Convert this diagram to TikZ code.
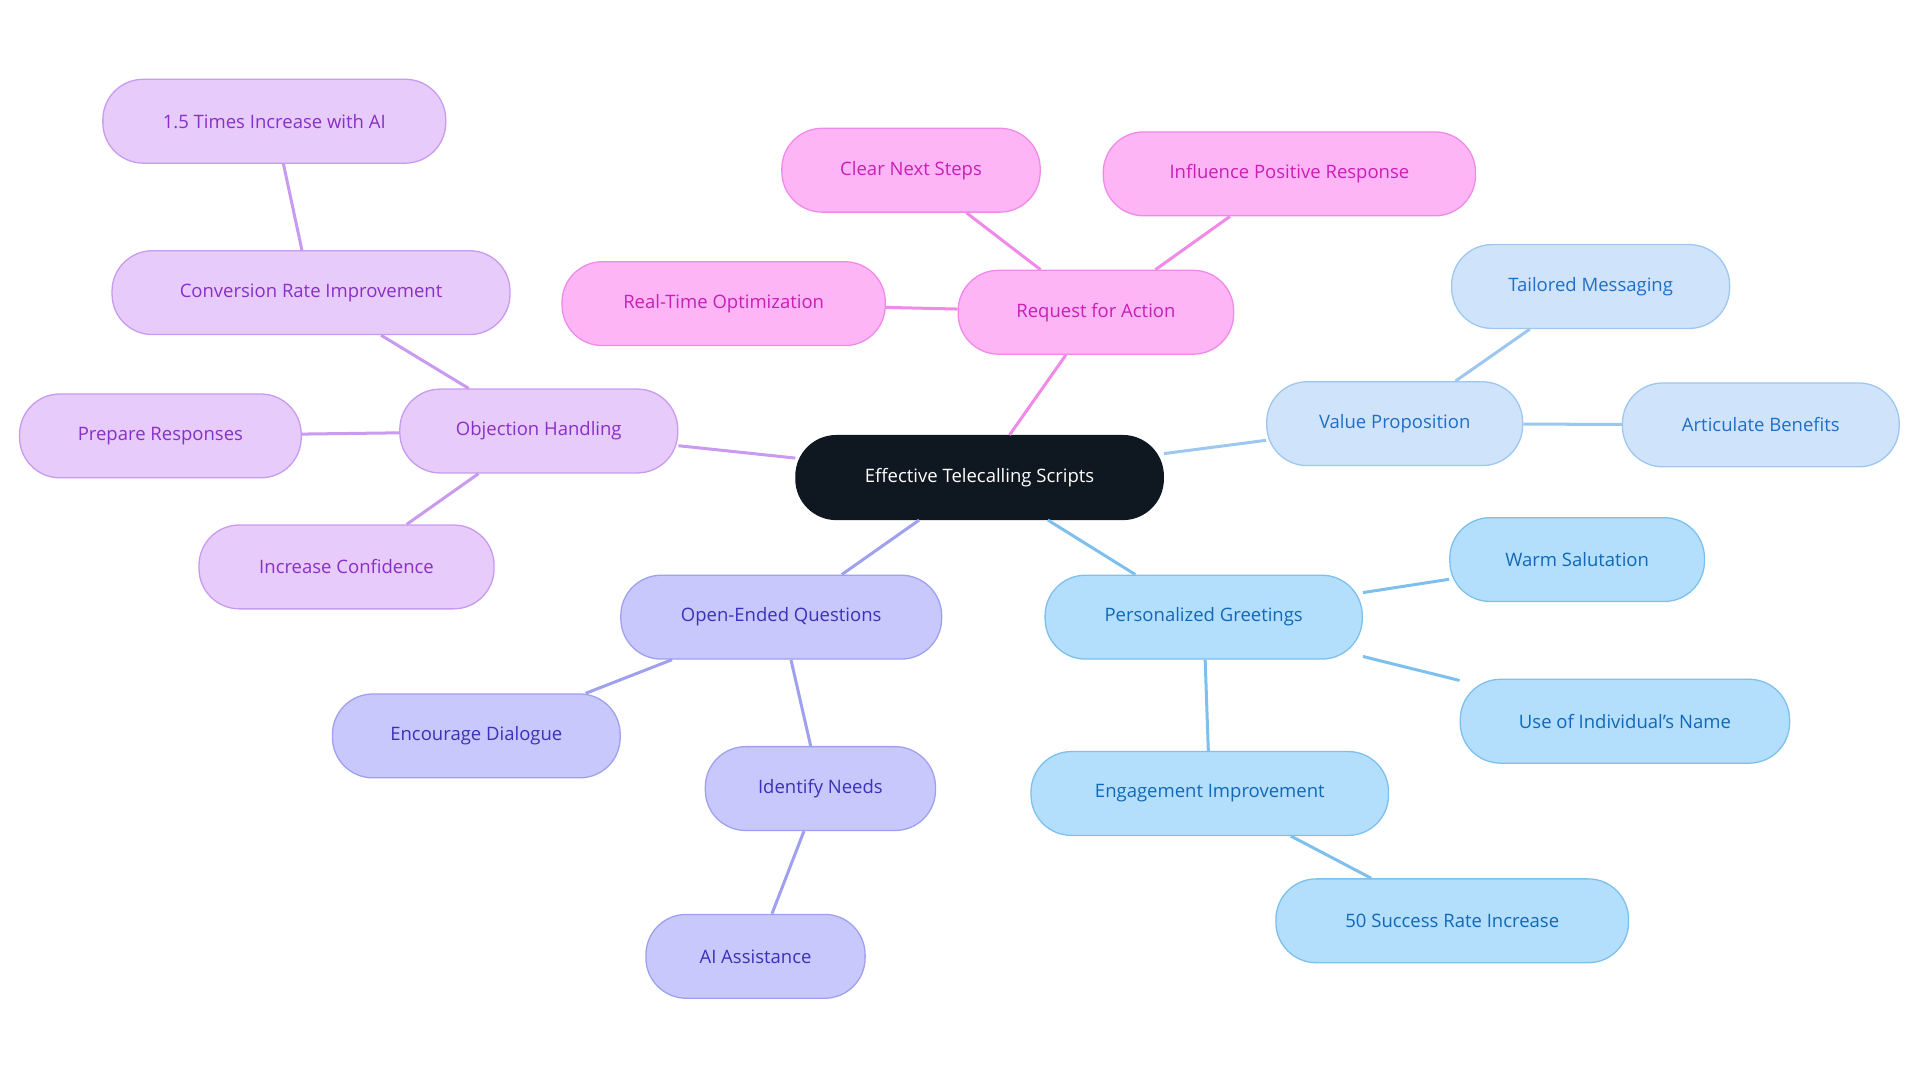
\documentclass[tikz,border=0pt]{standalone}
\usepackage{fontspec}
\setmainfont{Open Sans}
\definecolor{cdark}{HTML}{0F1720}
\definecolor{pfill}{HTML}{E6CBFB}\definecolor{pdraw}{HTML}{C89AF0}\definecolor{ptext}{HTML}{8A2FC8}
\definecolor{kfill}{HTML}{FDB5F5}\definecolor{kdraw}{HTML}{F08AE8}\definecolor{ktext}{HTML}{C81FB8}
\definecolor{vfill}{HTML}{CFE3FB}\definecolor{vdraw}{HTML}{9EC7F0}\definecolor{vtext}{HTML}{1F6FC8}
\definecolor{sfill}{HTML}{B3DFFC}\definecolor{sdraw}{HTML}{7DC0EE}\definecolor{stext}{HTML}{1268B8}
\definecolor{ifill}{HTML}{C8C8FC}\definecolor{idraw}{HTML}{A0A0F0}\definecolor{itext}{HTML}{3A32B8}
\tikzset{
 box/.style={rectangle,rounded corners=0.66cm,minimum height=1.37cm,inner sep=0pt,font=\fontsize{8.6}{10}\selectfont,line width=0.6pt},
 pbox/.style={box,fill=pfill,draw=pdraw,text=ptext},
 kbox/.style={box,fill=kfill,draw=kdraw,text=ktext},
 vbox/.style={box,fill=vfill,draw=vdraw,text=vtext},
 sbox/.style={box,fill=sfill,draw=sdraw,text=stext},
 ibox/.style={box,fill=ifill,draw=idraw,text=itext},
 cbox/.style={box,fill=cdark,draw=cdark,text=white},
 w/.style={minimum width=#1*0.02cm},
 edge/.style={line width=1.4pt}
}
\begin{document}
\begin{tikzpicture}[x=0.02cm,y=-0.02cm]
\useasboundingbox (0,0) rectangle (1568,884);
\node[cbox,w=300] (c) at (800,390) {Effective Telecalling Scripts};
\node[pbox,w=227] (oh) at (440,352) {Objection Handling};
\node[pbox,w=325] (cr) at (254,239) {Conversion Rate Improvement};
\node[pbox,w=280] (ti) at (224,99) {1.5 Times Increase with AI};
\node[pbox,w=230] (pr) at (131,356) {Prepare Responses};
\node[pbox,w=241] (ic) at (283,463) {Increase Confidence};
\node[kbox,w=225] (ra) at (895,255) {Request for Action};
\node[kbox,w=211] (cn) at (744,139) {Clear Next Steps};
\node[kbox,w=304] (ip) at (1053,142) {Influence Positive Response};
\node[kbox,w=264] (rt) at (591,248) {Real-Time Optimization};
\node[vbox,w=209] (vp) at (1139,346) {Value Proposition};
\node[vbox,w=227] (tm) at (1299,234) {Tailored Messaging};
\node[vbox,w=226] (ab) at (1438,347) {Articulate Benefits};
\node[sbox,w=259] (pg) at (983,504) {Personalized Greetings};
\node[sbox,w=208] (ws) at (1288,457) {Warm Salutation};
\node[sbox,w=269] (un) at (1327,589) {Use of Individual's Name};
\node[sbox,w=292] (ei) at (988,648) {Engagement Improvement};
\node[sbox,w=288] (sr) at (1186,752) {50 Success Rate Increase};
\node[ibox,w=262] (oq) at (638,504) {Open-Ended Questions};
\node[ibox,w=235] (ed) at (389,601) {Encourage Dialogue};
\node[ibox,w=188] (in) at (670,644) {Identify Needs};
\node[ibox,w=179] (ai) at (617,781) {AI Assistance};
\begin{scope}[edge]
\draw[pdraw] (c)--(oh) (oh)--(cr) (cr)--(ti) (oh)--(pr) (oh)--(ic);
\draw[kdraw] (c)--(ra) (ra)--(cn) (ra)--(ip) (ra)--(rt);
\draw[vdraw] (c)--(vp) (vp)--(tm) (vp)--(ab);
\draw[sdraw] (c)--(pg) (pg)--(ws) (pg)--(un) (pg)--(ei) (ei)--(sr);
\draw[idraw] (c)--(oq) (oq)--(ed) (oq)--(in) (in)--(ai);
\end{scope}
\end{tikzpicture}
\end{document}
